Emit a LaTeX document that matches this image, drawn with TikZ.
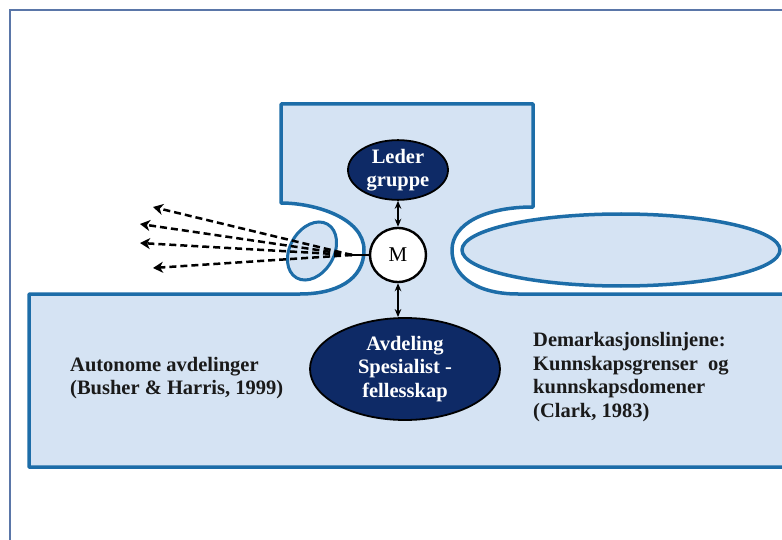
\documentclass[tikz,border=0pt]{standalone}
\usepackage{fontspec}
\setmainfont{Liberation Serif}
\usetikzlibrary{arrows.meta,shapes.geometric}
\definecolor{fillblue}{HTML}{D5E3F3}
\definecolor{lineblue}{HTML}{1D6DA8}
\definecolor{navy}{HTML}{0E2A66}
\definecolor{framegrey}{HTML}{5A76A8}
\definecolor{txt}{HTML}{1A1A1A}
\begin{document}
\begin{tikzpicture}[x=1pt,y=-1pt,
  region/.style={fill=fillblue,draw=lineblue,line width=3.5pt,line join=round},
  navyell/.style={ellipse,fill=navy,draw=black,line width=1.8pt,text=white,font=\bfseries\fontsize{20.5}{23.5}\selectfont,align=center,inner sep=0pt},
  mnode/.style={ellipse,fill=white,draw=black,line width=2.4pt,minimum width=56pt,minimum height=54pt,inner sep=0pt,font=\fontsize{21}{24}\selectfont},
  txtlabel/.style={text=txt,font=\bfseries\fontsize{20.5}{23.5}\selectfont,align=left,inner sep=0pt},
  dbl/.style={{Stealth[length=8pt,width=6.5pt]}-{Stealth[length=8pt,width=6.5pt]},line width=1.5pt},
  dsh/.style={-{Stealth[length=10pt,width=11pt,inset=3pt]},line width=2.5pt,dash pattern=on 7pt off 4pt}
]
\useasboundingbox (0,0) rectangle (782,540);
\begin{scope}
\clip (0,0) rectangle (782,540);
\draw[framegrey,line width=2.4pt] (10,10) rectangle (820,580);
\draw[region] (29,294) -- (29,467) -- (800,467) -- (800,294) -- (518,294)
  .. controls (475,294) and (452,275) .. (452,250)
  .. controls (452,224) and (485,207) .. (533,207) -- (533,104) -- (281,104) -- (281,203)
  .. controls (315,203) and (364,218) .. (364,250)
  .. controls (364,280) and (336,294) .. (300,294) -- cycle;
\draw[region] (621,250) ellipse [x radius=159pt, y radius=36pt];
\draw[region,line width=3pt,rotate around={60:(312,251)}] (312,251) ellipse [x radius=31pt, y radius=22pt];
\end{scope}

\node[navyell,minimum width=100pt,minimum height=56pt] (leder) at (398,170) {Leder\\gruppe};
\node[mnode] (m) at (398,255) {M};
\node[navyell,minimum width=190pt,minimum height=102pt] (avd) at (405,369) {Avdeling\\Spesialist -\\fellesskap};

\draw[dbl] (leder) -- (m);
\draw[dbl] (m.south) -- (avd.north -| m.south);

\coordinate (hub) at (352,255);
\coordinate (d1) at (153,207);
\coordinate (d2) at (140,224);
\coordinate (d3) at (140,243);
\coordinate (d4) at (153,268);
\draw[line width=2.2pt] (m.west) -- (hub);
\draw[dsh] (hub) -- (d1);
\draw[dsh] (hub) -- (d2);
\draw[dsh] (hub) -- (d3);
\draw[dsh] (hub) -- (d4);

\node[txtlabel,anchor=west] (auto) at (70,378) {Autonome avdelinger\\(Busher \& Harris, 1999)};
\node[txtlabel,anchor=west] (dem) at (533,377) {Demarkasjonslinjene:\\Kunnskapsgrenser\ \ og\\kunnskapsdomener\\(Clark, 1983)};
\end{tikzpicture}
\end{document}
